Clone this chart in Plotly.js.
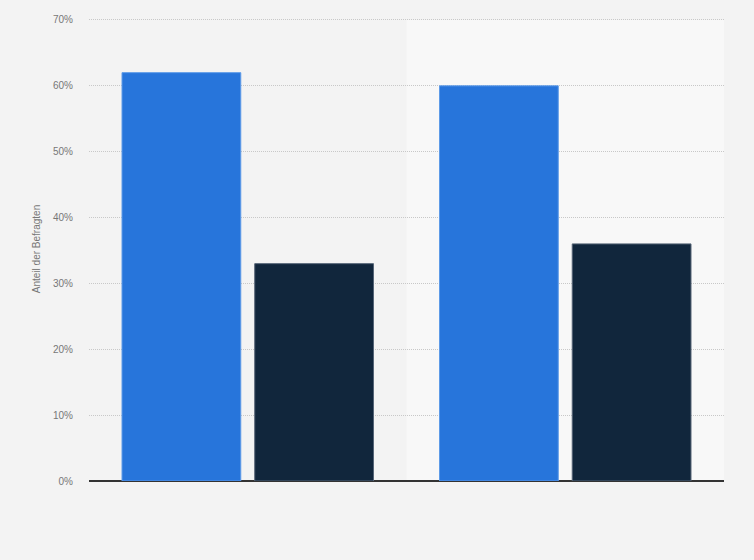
<!DOCTYPE html>
<html>
<head>
<meta charset="utf-8">
<script src="https://cdn.plot.ly/plotly-3.0.1.min.js"></script>
<style>
  html, body { margin: 0; padding: 0; background: #f3f3f3; }
  #chart { width: 754px; height: 560px; }
</style>
</head>
<body>
<div id="chart"></div>
<script>
// ----- Daten -----
const categories = ["Gruppe 1", "Gruppe 2"];
const seriesNames = ["Antwort A", "Antwort B"];
const seriesA = [62, 60];   // blaue Balken
const seriesB = [33, 36];   // dunkle Balken
const yTicks = [0, 10, 20, 30, 40, 50, 60, 70];
const yTickLabels = yTicks.map(v => v + "%");

const traces = [
  {
    type: "bar", name: seriesNames[0],
    x: categories, y: seriesA,
    marker: { color: "#2775db", line: { color: "#5e9be8", width: 1 } },
    hoverinfo: "y"
  },
  {
    type: "bar", name: seriesNames[1],
    x: categories, y: seriesB,
    marker: { color: "#11263c", line: { color: "#566577", width: 1 } },
    hoverinfo: "y"
  }
];

const layout = {
  width: 754, height: 560,
  paper_bgcolor: "#f3f3f3",
  plot_bgcolor: "#f3f3f3",
  margin: { l: 89, r: 30, t: 17, b: 79 },
  showlegend: false,
  barmode: "group",
  bargap: 0.164,
  bargroupgap: 0.105,
  font: { family: "'Liberation Sans', Arial, sans-serif", size: 10, color: "#666" },
  xaxis: {
    type: "category",
    showticklabels: false,
    showgrid: false,
    zeroline: false,
    showline: false,
    ticks: ""
  },
  yaxis: {
    range: [0, 70.45],
    tickmode: "array",
    tickvals: yTicks,
    ticktext: yTickLabels,
    ticklabelstandoff: 15,
    showgrid: true,
    gridcolor: "#c8c8c8",
    griddash: "1px,1px",
    gridwidth: 1,
    zeroline: true,
    zerolinecolor: "#333",
    zerolinewidth: 1.5,
    showline: false,
    tickfont: { size: 10, color: "#777" },
    title: { text: "Anteil der Befragten", font: { size: 10, color: "#777" }, standoff: 10 }
  },
  // hellerer Hintergrund hinter der zweiten Kategorie
  shapes: [
    {
      type: "rect", xref: "x", yref: "y",
      x0: 0.5, x1: 1.5, y0: 0, y1: yTicks[yTicks.length - 1],
      fillcolor: "#f8f8f8", line: { width: 0 }, layer: "below"
    }
  ]
};

Plotly.newPlot("chart", traces, layout, { displayModeBar: false, staticPlot: true });
</script>
</body>
</html>
